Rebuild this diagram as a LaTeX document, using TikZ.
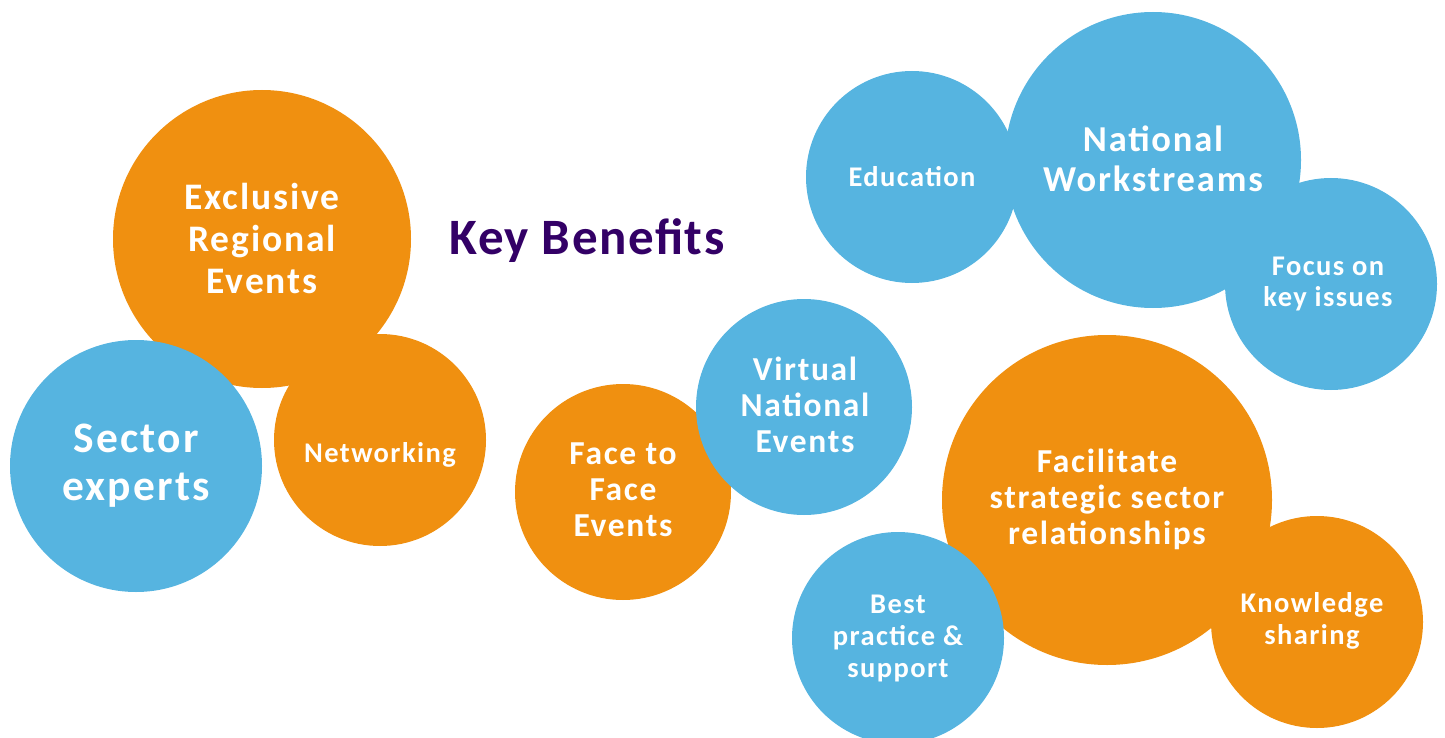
\documentclass[tikz,border=0pt]{standalone}
\usepackage{fontspec}
\setmainfont{Carlito}[LetterSpace=5]
\newfontfamily\titlefont{Carlito}[LetterSpace=3]
\usepackage{tikz}
\usetikzlibrary{positioning}
\definecolor{morange}{RGB}{240, 144, 16}
\definecolor{mblue}{RGB}{86, 180, 224}
\definecolor{mpurple}{RGB}{51, 0, 102}
\tikzset{obub/.style = {circle, fill=morange, inner sep=0pt},
         bbub/.style = {circle, fill=mblue, inner sep=0pt},
         btext/.style = {text=white, align=center, inner sep=0pt}}
\newcommand{\fsz}[2]{\fontsize{#1}{#2}\selectfont\bfseries}

\begin{document}
\begin{tikzpicture}[x=1pt, y=-1pt]
    \useasboundingbox (0, 0) rectangle (1445, 738);

    % left group
    \node [obub, minimum size=298] (exclusive) at (262, 239) {};
    \node [bbub, minimum size=252] (sector) at (136, 466) {};
    \node [obub, minimum size=212] (networking) at (380, 440) {};
    \node [btext, font=\fsz{37.5}{42}] (exclusive-t) at (262, 238) {Exclusive\\Regional\\Events};
    \node [btext, font=\fsz{43.5}{48}] (sector-t) at (136, 466) {Sector\\experts};
    \node [btext, font=\fsz{28.5}{32}] (networking-t) at (380, 455) {Networking};

    \node [text=mpurple, inner sep=0pt, font=\titlefont\fsz{51}{56}] (title) at (587, 241) {Key Benefits};

    % middle group
    \node [obub, minimum size=216] (face) at (623, 492) {};
    \node [bbub, minimum size=216] (virtual) at (804, 407) {};
    \node [btext, font=\fsz{33.5}{36}] (face-t) at (623, 490) {Face to\\Face\\Events};
    \node [btext, font=\fsz{33.5}{36}] (virtual-t) at (805, 405) {Virtual\\National\\Events};

    % top right group
    \node [bbub, minimum size=212] (education) at (912, 177) {};
    \node [bbub, minimum size=296] (national) at (1153, 160) {};
    \node [bbub, minimum size=212] (focus) at (1331, 284) {};
    \node [btext, font=\fsz{28.5}{32}] (education-t) at (912, 177) {Education};
    \node [btext, font=\fsz{36.5}{40}] (national-t) at (1153, 159) {National\\Workstreams};
    \node [btext, font=\fsz{28.5}{31}] (focus-t) at (1328, 284) {Focus on\\key issues};

    % bottom right group
    \node [obub, minimum size=330] (facilitate) at (1107, 500) {};
    \node [bbub, minimum size=212] (best) at (898, 638) {};
    \node [obub, minimum size=212] (knowledge) at (1317, 622) {};
    \node [btext, font=\fsz{33.5}{36}] (facilitate-t) at (1107, 499) {Facilitate\\strategic sector\\relationships};
    \node [btext, font=\fsz{28.5}{32}] (best-t) at (898, 638) {Best\\practice \&\\support};
    \node [btext, font=\fsz{28.5}{32}] (knowledge-t) at (1312, 621) {Knowledge\\sharing};
\end{tikzpicture}
\end{document}
